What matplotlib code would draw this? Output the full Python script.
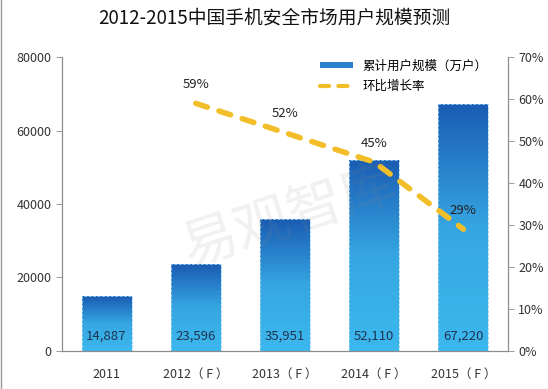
import matplotlib.pyplot as plt
from matplotlib.colors import LinearSegmentedColormap
from matplotlib.lines import Line2D
from matplotlib.patches import Patch
import numpy as np

plt.rcParams['font.family'] = ['Noto Sans CJK SC', 'DejaVu Sans']

# data
years = ['2011', '2012（ F ）', '2013（ F ）', '2014（ F ）', '2015（ F ）']
users = [14887, 23596, 35951, 52110, 67220]
growth = [None, 59, 52, 45, 29]

fig = plt.figure(figsize=(5.48, 3.89), dpi=100)
ax = fig.add_axes([0.113, 0.098, 0.814, 0.755])
ax2 = ax.twinx()

x = np.arange(len(years))
bars = ax.bar(x, users, width=0.56, color='none', edgecolor='#9fd3f2',
              linestyle='--', linewidth=0.6, zorder=2)

# gradient fill per bar
cmap = LinearSegmentedColormap.from_list('blues', ['#3cb8ee', '#36a6e2', '#1a5cb3'])
grad = np.linspace(0, 1, 256).reshape(-1, 1)
for b in bars:
    x0, y0 = b.get_x(), b.get_y()
    w, h = b.get_width(), b.get_height()
    im = ax.imshow(grad, cmap=cmap, extent=[x0, x0 + w, y0, y0 + h],
                   origin='lower', aspect='auto', zorder=1)
    im.set_clip_path(b)

for xi, v in zip(x, users):
    ax.text(xi, 4000, f'{v:,}', ha='center', va='center', fontsize=9.5,
            color='#1f3550', zorder=3)

ax.set_xlim(-0.5, 4.5)
ax.set_ylim(0, 80000)
ax.set_yticks(range(0, 80001, 20000))
ax.set_xticks(x)
ax.set_xticklabels(years)

gx = [xi for xi, g in zip(x, growth) if g is not None]
gy = [g for g in growth if g is not None]
ax2.plot(gx, gy, color='#f2bf2a', linewidth=4, linestyle=(0, (2.2, 2.2)),
         dash_capstyle='round', zorder=4)
for xi, g in zip(gx, gy):
    ax2.text(xi, g + 4.5, f'{g}%', ha='center', va='center', fontsize=9.5,
             color='#222222', zorder=5)
ax2.set_ylim(0, 70)
ax2.set_yticks(range(0, 71, 10))
ax2.set_yticklabels([f'{t}%' for t in range(0, 71, 10)])

for a in (ax, ax2):
    a.spines['top'].set_visible(False)
    for s in ('left', 'right', 'bottom'):
        a.spines[s].set_color('#8c8c8c')
    a.tick_params(labelsize=9, colors='#333333', length=4, width=0.6)
ax.tick_params(axis='x', length=0, pad=12)
ax.tick_params(axis='y', color='#8c8c8c')
ax2.tick_params(axis='y', color='#8c8c8c')

# watermark
fig.text(0.53, 0.44, '易观智库', fontsize=40, color='#888888', alpha=0.12,
         rotation=18, ha='center', va='center')

handles = [Patch(facecolor='#2a7fcf', edgecolor='none'),
           Line2D([0], [0], color='#f2bf2a', linewidth=3, linestyle=(0, (2.2, 2.2)),
                  dash_capstyle='round')]
ax2.legend(handles, ['累计用户规模（万户）', '环比增长率'], loc='upper right',
           bbox_to_anchor=(0.98, 1.03), frameon=False, fontsize=9,
           handlelength=2.6, handleheight=0.4, labelspacing=0.6)

fig.text(0.5, 0.955, '2012-2015中国手机安全市场用户规模预测', ha='center', va='center',
         fontsize=13.5, color='#111111')
fig.add_artist(Line2D([0.002, 0.002], [0, 1], color='#999999', linewidth=1,
                      transform=fig.transFigure))

fig.savefig('out.png', dpi=100)
